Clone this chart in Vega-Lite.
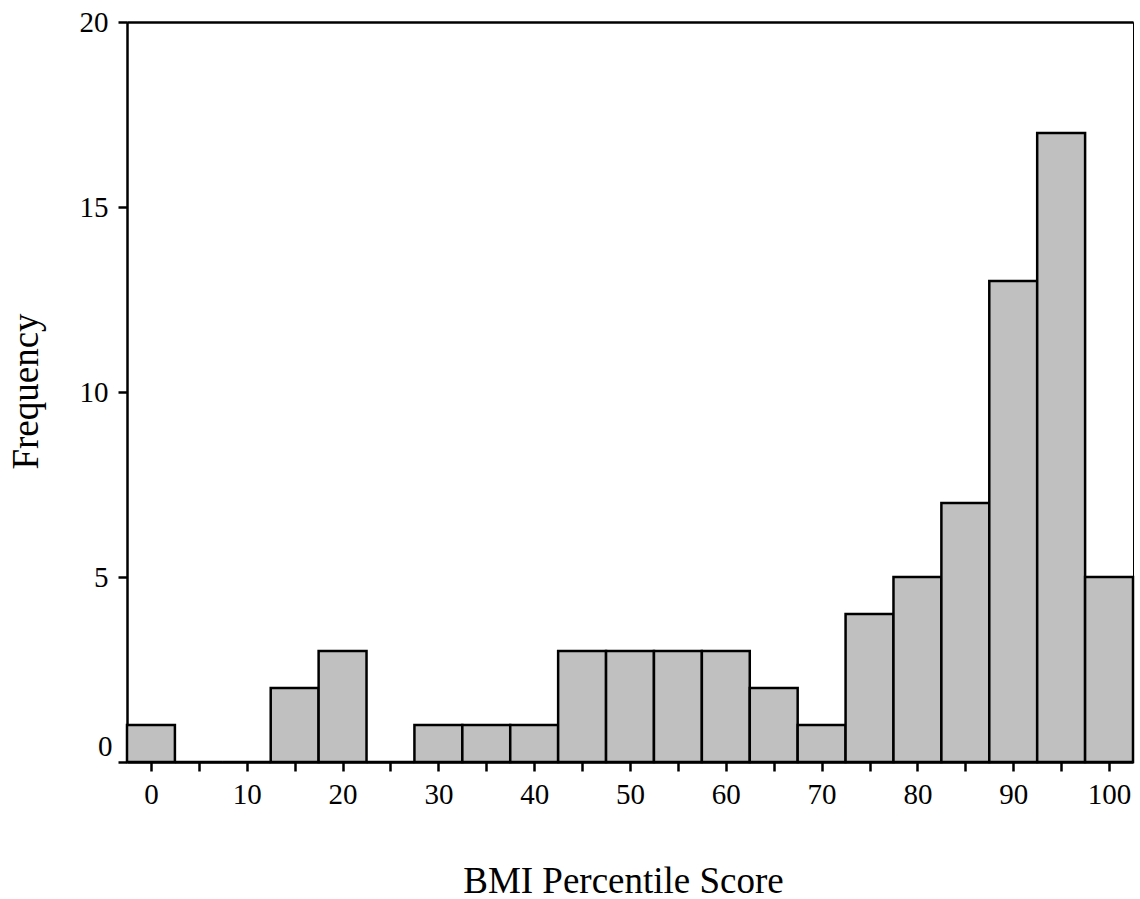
{
  "$schema": "https://vega.github.io/schema/vega-lite/v6.json",
  "width": 1006,
  "height": 740,
  "autosize": {"type": "none"},
  "padding": {"left": 127, "top": 22, "right": 7, "bottom": 137},
  "background": "white",
  "config": {
    "view": {"stroke": "black", "strokeWidth": 1},
    "font": "Liberation Serif",
    "axis": {
      "domainColor": "black",
      "domainWidth": 2.5,
      "tickColor": "black",
      "tickWidth": 2.5,
      "grid": false,
      "labelFont": "Liberation Serif",
      "labelFontSize": 29,
      "labelColor": "black",
      "titleFont": "Liberation Serif",
      "titleFontSize": 37,
      "titleFontWeight": "normal",
      "titleColor": "black"
    }
  },
  "data": {
    "values": [
      {"bin_start": -2.5, "bin_end": 2.5, "count": 1},
      {"bin_start": 2.5, "bin_end": 7.5, "count": 0},
      {"bin_start": 7.5, "bin_end": 12.5, "count": 0},
      {"bin_start": 12.5, "bin_end": 17.5, "count": 2},
      {"bin_start": 17.5, "bin_end": 22.5, "count": 3},
      {"bin_start": 22.5, "bin_end": 27.5, "count": 0},
      {"bin_start": 27.5, "bin_end": 32.5, "count": 1},
      {"bin_start": 32.5, "bin_end": 37.5, "count": 1},
      {"bin_start": 37.5, "bin_end": 42.5, "count": 1},
      {"bin_start": 42.5, "bin_end": 47.5, "count": 3},
      {"bin_start": 47.5, "bin_end": 52.5, "count": 3},
      {"bin_start": 52.5, "bin_end": 57.5, "count": 3},
      {"bin_start": 57.5, "bin_end": 62.5, "count": 3},
      {"bin_start": 62.5, "bin_end": 67.5, "count": 2},
      {"bin_start": 67.5, "bin_end": 72.5, "count": 1},
      {"bin_start": 72.5, "bin_end": 77.5, "count": 4},
      {"bin_start": 77.5, "bin_end": 82.5, "count": 5},
      {"bin_start": 82.5, "bin_end": 87.5, "count": 7},
      {"bin_start": 87.5, "bin_end": 92.5, "count": 13},
      {"bin_start": 92.5, "bin_end": 97.5, "count": 17},
      {"bin_start": 97.5, "bin_end": 102.5, "count": 5}
    ]
  },
  "layer": [
    {
      "mark": {"type": "bar", "fill": "#c0c0c0", "stroke": "black", "strokeWidth": 2.5},
      "encoding": {
        "x": {
          "field": "bin_start",
          "type": "quantitative",
          "scale": {"domain": [-2.5, 102.5], "nice": false, "zero": false},
          "axis": {
            "title": "BMI Percentile Score",
            "values": [0, 5, 10, 15, 20, 25, 30, 35, 40, 45, 50, 55, 60, 65, 70, 75, 80, 85, 90, 95, 100],
            "labelExpr": "datum.value % 10 == 0 ? datum.label : ''",
            "tickSize": 9,
            "labelPadding": 9,
            "labelFlush": false,
            "labelOverlap": false,
            "titleBaseline": "alphabetic",
            "titleAlign": "center",
            "titleY": 130,
            "titleX": 496
          }
        },
        "x2": {"field": "bin_end"},
        "y": {
          "field": "count",
          "type": "quantitative",
          "scale": {"domain": [0, 20], "nice": false},
          "axis": {
            "title": "Frequency",
            "values": [0, 5, 10, 15, 20],
            "tickSize": 9,
            "labelPadding": {"expr": "datum.value == 0 ? 6 : 10"},
            "labelFlush": false,
            "labelOffset": {"expr": "datum.value == 0 ? -16 : 0"},
            "titleBaseline": "alphabetic",
            "titleAngle": -90,
            "titleX": -90,
            "titleY": 369,
            "titleAlign": "center"
          }
        },
        "y2": {"datum": 0}
      }
    },
    {
      "mark": {"type": "rule", "opacity": 0},
      "encoding": {
        "x": {
          "field": "bin_start",
          "type": "quantitative",
          "axis": {"orient": "top", "labels": false, "ticks": false, "title": null, "domainWidth": 2.5}
        }
      }
    }
  ],
  "resolve": {"axis": {"x": "independent"}}
}
